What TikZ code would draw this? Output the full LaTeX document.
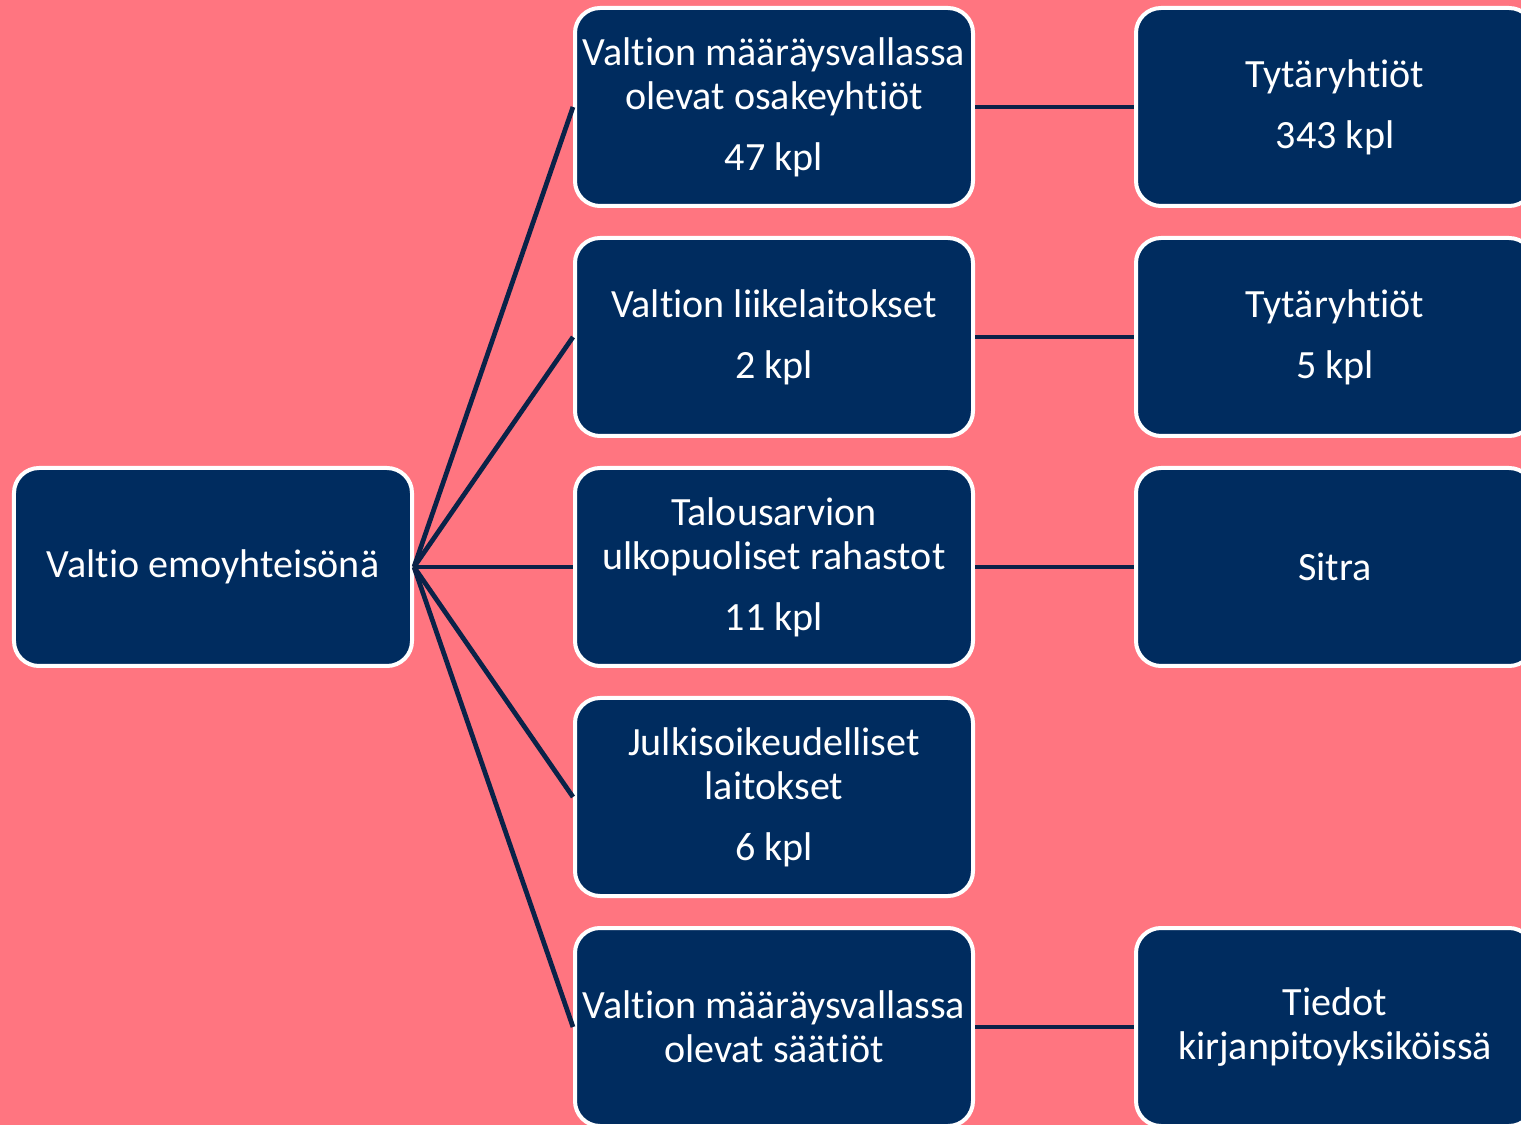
\documentclass[tikz,border=0pt]{standalone}
\usepackage{fontspec}
\setmainfont{Carlito}[Ligatures=NoCommon]
\definecolor{bgpink}{HTML}{FF7580}
\definecolor{navy}{HTML}{002C5F}
\definecolor{linknavy}{HTML}{0A2248}
\tikzset{
    unitbox/.style = {draw=white, line width=0.08cm, fill=navy, rounded corners=0.5cm,
        minimum width=7.96cm, minimum height=3.96cm, text=white, align=center,
        font=\fontsize{22.8}{25}\selectfont},
    link/.style = {draw=linknavy, line width=0.095cm}
}
\begin{document}
\begin{tikzpicture}
    \fill[bgpink] (0,0) rectangle (30.42,-22.5);
    \useasboundingbox (0,0) rectangle (30.42,-22.5);
    \def\gap{0.34cm}
    % parent
    \node[unitbox] (valtio) at (4.26,-11.34) {Valtio emoyhteisönä};
    % middle column
    \node[unitbox] (osakeyhtiot) at (15.48,-2.14) {Valtion määräysvallassa\\olevat osakeyhtiöt\\[\gap]47 kpl};
    \node[unitbox] (liikelaitokset) at (15.48,-6.74) {Valtion liikelaitokset\\[\gap]2 kpl};
    \node[unitbox] (rahastot) at (15.48,-11.34) {Talousarvion\\ulkopuoliset rahastot\\[\gap]11 kpl};
    \node[unitbox] (laitokset) at (15.48,-15.94) {Julkisoikeudelliset\\laitokset\\[\gap]6 kpl};
    \node[unitbox] (saatiot) at (15.48,-20.54) {Valtion määräysvallassa\\olevat säätiöt};
    % right column
    \node[unitbox] (tytar1) at (26.7,-2.14) {Tytäryhtiöt\\[\gap]343 kpl};
    \node[unitbox] (tytar2) at (26.7,-6.74) {Tytäryhtiöt\\[\gap]5 kpl};
    \node[unitbox] (sitra) at (26.7,-11.34) {Sitra};
    \node[unitbox] (tiedot) at (26.7,-20.54) {Tiedot\\kirjanpitoyksiköissä};
    % connectors
    \foreach \m in {osakeyhtiot,liikelaitokset,rahastot,laitokset,saatiot}
    {
        \draw[link] (valtio.east) -- (\m.west);
    }
    \draw[link] (osakeyhtiot.east) -- (tytar1.west);
    \draw[link] (liikelaitokset.east) -- (tytar2.west);
    \draw[link] (rahastot.east) -- (sitra.west);
    \draw[link] (saatiot.east) -- (tiedot.west);
\end{tikzpicture}
\end{document}
